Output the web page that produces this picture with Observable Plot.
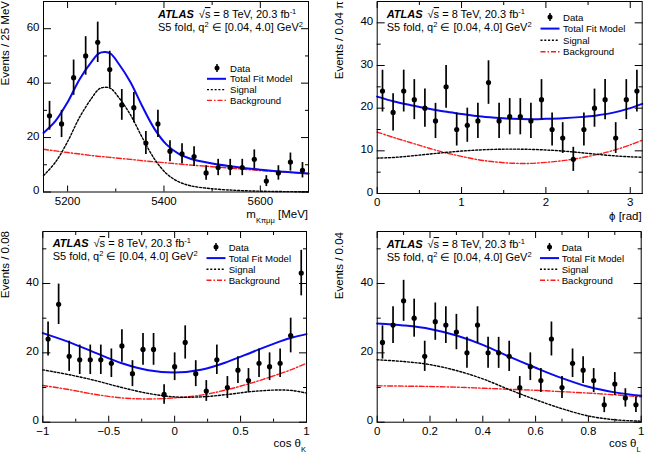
<!DOCTYPE html>
<html><head><meta charset="utf-8">
<script src="https://cdn.jsdelivr.net/npm/d3@7"></script>
<script src="https://cdn.jsdelivr.net/npm/@observablehq/plot@0.6"></script>
<style>
body{margin:0;background:#fff;}
#wrap{position:relative;width:647px;height:454px;overflow:hidden;font-family:"Liberation Sans",Arial,Helvetica,sans-serif;}
.p{position:absolute;}
#ov{position:absolute;left:0;top:0;pointer-events:none;}
</style></head><body><div id="wrap"></div>
<script>
// ---------- Panel 1: m(K pi mu mu) ----------
const massBins = [5162.5, 5187.5, 5212.5, 5237.5, 5262.5, 5287.5, 5312.5, 5337.5, 5362.5, 5387.5, 5412.5, 5437.5, 5462.5, 5487.5, 5512.5, 5537.5, 5562.5, 5587.5, 5612.5, 5637.5, 5662.5, 5687.5];
const massCounts = [28, 25, 42, 50, 55, 45, 32, 31, 18, 25, 15, 14, 13, 7, 9, 9, 9, 12, 4, 7, 11, 8];
const massCurveX = [5150, 5175, 5200, 5225, 5250, 5265, 5278, 5290, 5305, 5330, 5355, 5380, 5405, 5430, 5455, 5500, 5550, 5600, 5650, 5700];
const massSignal = [6, 11, 18.5, 27.5, 34.5, 37.8, 38.5, 38, 35, 28.5, 20, 12.2, 6.8, 3.8, 2.3, 1.2, 0.6, 0.3, 0.15, 0.08];
const massBkg = [15.7, 15.1, 14.5, 13.95, 13.4, 13.1, 12.9, 12.7, 12.4, 12.0, 11.5, 11.1, 10.7, 10.3, 9.9, 9.3, 8.6, 7.9, 7.3, 6.7];
const massTotal = [21.7, 26.1, 33.0, 41.45, 47.9, 50.9, 51.4, 50.7, 47.4, 40.5, 31.5, 23.3, 17.5, 14.1, 12.2, 10.5, 9.2, 8.2, 7.45, 6.78];
const massTicks = [5200, 5400, 5600];
const massMinor = [5300, 5500];
const massYTicks = [0, 20, 40, 60];
const massYMinor = [10, 30, 50];

// ---------- Panel 2: phi ----------
const phiBins = [0.0628, 0.1885, 0.3142, 0.4398, 0.5655, 0.6912, 0.8168, 0.9425, 1.0681, 1.1938, 1.3195, 1.4451, 1.5708, 1.6965, 1.8221, 1.9478, 2.0735, 2.1991, 2.3248, 2.4504, 2.5761, 2.7018, 2.8274, 2.9531, 3.0788];
const phiCounts = [24, 19, 24, 22, 20, 17, 25, 15, 16, 17, 26, 17, 18, 18, 17, 22, 15, 13, 8, 15, 20, 22, 13, 22, 24];
const phiCurveX = [0, 0.2, 0.4, 0.6, 0.8, 1.0, 1.2, 1.4, 1.6, 1.8, 2.0, 2.2, 2.4, 2.6, 2.8, 3.0, 3.1416];
const phiSignal = [8.3, 8.45, 8.8, 9.2, 9.6, 9.95, 10.2, 10.35, 10.4, 10.35, 10.2, 9.95, 9.6, 9.2, 8.85, 8.6, 8.5];
const phiBkg = [14.4, 13.1, 11.9, 10.7, 9.6, 8.7, 7.9, 7.4, 7.1, 7.05, 7.3, 7.7, 8.3, 9.1, 10.1, 11.4, 12.5];
const phiTotal = [22.7, 21.55, 20.7, 19.9, 19.2, 18.65, 18.1, 17.75, 17.5, 17.4, 17.5, 17.65, 17.9, 18.3, 18.95, 20.0, 21.0];
const phiTicks = [0, 1, 2, 3];
const phiMinor = [0.5, 1.5, 2.5];
const phiYTicks = [0, 10, 20, 30, 40];
const phiYMinor = [5, 15, 25, 35];

// ---------- Panel 3: cos theta_K ----------
const ckBins = [-0.96, -0.88, -0.80, -0.72, -0.64, -0.56, -0.48, -0.40, -0.32, -0.24, -0.16, -0.08, 0, 0.08, 0.16, 0.24, 0.32, 0.40, 0.48, 0.56, 0.64, 0.72, 0.80, 0.88, 0.96];
const ckCounts = [24, 34, 19, 18, 18, 18, 17, 22, 14, 21, 21, 8, 16, 23, 14, 9, 18, 10, 15, 12, 17, 16, 17, 25, 43];
const ckCurveX = [-1, -0.8, -0.6, -0.4, -0.2, 0, 0.2, 0.4, 0.6, 0.8, 0.9, 1];
const ckSignal = [15.1, 13.7, 12.0, 10.0, 8.3, 7.3, 7.3, 8.0, 8.9, 9.3, 9.1, 8.4];
const ckBkg = [10.6, 9.4, 8.0, 7.0, 6.7, 7.0, 7.8, 9.4, 11.5, 14.0, 15.4, 17.0];
const ckTotal = [25.7, 23.1, 20.0, 17.0, 15.0, 14.3, 15.1, 17.4, 20.4, 23.3, 24.5, 25.4];
const ckTicks = [-1, -0.5, 0, 0.5, 1];
const ckMinor = [-0.75, -0.25, 0.25, 0.75];
const ckYTicks = [0, 20, 40];
const ckYMinor = [10, 30, 50];

// ---------- Panel 4: cos theta_L ----------
const clBins = [0.02, 0.06, 0.10, 0.14, 0.18, 0.22, 0.26, 0.30, 0.34, 0.38, 0.42, 0.46, 0.50, 0.54, 0.58, 0.62, 0.66, 0.70, 0.74, 0.78, 0.82, 0.86, 0.90, 0.94, 0.98];
const clCounts = [23, 28, 35, 30, 19, 29, 28, 26, 20, 28, 20, 20, 19, 10, 16, 12, 24, 10, 17, 15, 12, 5, 11, 7, 5];
const clCurveX = [0, 0.1, 0.2, 0.3, 0.4, 0.5, 0.6, 0.7, 0.8, 0.9, 1];
const clSignal = [18.0, 17.5, 16.6, 14.9, 12.5, 9.4, 6.5, 3.9, 1.8, 0.7, 0.3];
const clBkg = [10.5, 10.4, 10.3, 10.1, 9.8, 9.5, 9.2, 8.8, 8.4, 7.9, 7.3];
const clTotal = [28.5, 27.9, 26.9, 25.0, 22.3, 18.9, 15.7, 12.7, 10.2, 8.6, 7.6];
const clTicks = [0, 0.2, 0.4, 0.6, 0.8, 1];
const clMinor = [0.1, 0.3, 0.5, 0.7, 0.9];
const clYTicks = [0, 20, 40];
const clYMinor = [10, 30, 50];

const yTitles = ["Events / 25 MeV", "Events / 0.04 \u03C0", "Events / 0.08", "Events / 0.04"];
const legendLabels = ["Data", "Total Fit Model", "Signal", "Background"];

const FONT = '"Liberation Sans", Arial, Helvetica, sans-serif';
const BLUE = "#0a0af0", RED = "#ff1a1a";
const fmtPlain = d => d < 0 ? "\u2212" + (-d) : String(d);

const panels = [
  {left:0, top:0, w:323, h:227, m:[1,15,35.5,43], xDom:[5150,5700], yDom:[0,70],
   xMaj:massTicks, xMin:massMinor, yMaj:massYTicks, yMin:massYMinor,
   bins:massBins, counts:massCounts, cx:massCurveX, sig:massSignal, bkg:massBkg, tot:massTotal},
  {left:323, top:0, w:324, h:227, m:[1,5.3,34,53.7], xDom:[0,Math.PI], yDom:[0,45],
   xMaj:phiTicks, xMin:phiMinor, yMaj:phiYTicks, yMin:phiYMinor,
   bins:phiBins, counts:phiCounts, cx:phiCurveX, sig:phiSignal, bkg:phiBkg, tot:phiTotal},
  {left:0, top:227, w:323, h:227, m:[4,17,32.3,42.3], xDom:[-1,1], yDom:[0,55],
   xMaj:ckTicks, xMin:ckMinor, yMaj:ckYTicks, yMin:ckYMinor,
   bins:ckBins, counts:ckCounts, cx:ckCurveX, sig:ckSignal, bkg:ckBkg, tot:ckTotal},
  {left:323, top:227, w:324, h:227, m:[4,6.3,32.3,53.7], xDom:[0,1], yDom:[0,55],
   xMaj:clTicks, xMin:clMinor, yMaj:clYTicks, yMin:clYMinor,
   bins:clBins, counts:clCounts, cx:clCurveX, sig:clSignal, bkg:clBkg, tot:clTotal}
];

const wrap = document.getElementById("wrap");

function inTicks(Axis, anchor, ticks, size) {
  return Axis({anchor, ticks, tickSize: -size, tickFormat: () => "", label: null, strokeWidth: 1});
}

for (const p of panels) {
  const pts = p.bins.map((x, i) => ({x, n: p.counts[i]}));
  const toPts = arr => p.cx.map((x, i) => ({x, y: arr[i]}));
  const plot = Plot.plot({
    width: p.w, height: p.h,
    marginTop: p.m[0], marginRight: p.m[1], marginBottom: p.m[2], marginLeft: p.m[3],
    x: {domain: p.xDom, label: null},
    y: {domain: p.yDom, label: null},
    style: {fontFamily: FONT, fontSize: "11.5px", color: "black", background: "transparent", overflow: "visible"},
    marks: [
      Plot.line(toPts(p.bkg), {x: "x", y: "y", stroke: RED, strokeWidth: 1.4, strokeDasharray: "5,2,1.5,2", curve: "catmull-rom"}),
      Plot.line(toPts(p.sig), {x: "x", y: "y", stroke: "black", strokeWidth: 1.4, strokeDasharray: "2,1.8", curve: "catmull-rom"}),
      Plot.line(toPts(p.tot), {x: "x", y: "y", stroke: BLUE, strokeWidth: 2, curve: "catmull-rom"}),
      Plot.ruleX(pts, {x: "x", y1: d => d.n - Math.sqrt(d.n), y2: d => d.n + Math.sqrt(d.n), stroke: "black", strokeWidth: 1.7}),
      Plot.dot(pts, {x: "x", y: "n", r: 2.6, fill: "black"}),
      Plot.frame({stroke: "black", strokeWidth: 1}),
      inTicks(Plot.axisX, "bottom", p.xMaj, 6),
      inTicks(Plot.axisX, "top", p.xMaj, 6),
      inTicks(Plot.axisX, "bottom", p.xMin, 3),
      inTicks(Plot.axisX, "top", p.xMin, 3),
      inTicks(Plot.axisY, "left", p.yMaj, 8),
      inTicks(Plot.axisY, "right", p.yMaj, 8),
      inTicks(Plot.axisY, "left", p.yMin, 4),
      inTicks(Plot.axisY, "right", p.yMin, 4),
      Plot.axisX({anchor: "bottom", ticks: p.xMaj, tickSize: 0, tickPadding: 4.5, tickFormat: fmtPlain, label: null}),
      Plot.axisY({anchor: "left", ticks: p.yMaj, tickSize: 0, tickPadding: 4, tickFormat: fmtPlain, label: null, dy: -1.5})
    ]
  });
  const d = document.createElement("div");
  d.className = "p";
  d.style.left = p.left + "px";
  d.style.top = p.top + "px";
  d.appendChild(plot);
  wrap.appendChild(d);
}

// ---------- overlay: titles, annotations, legends ----------
const xTitles = [
  {x:308, y:217.5, html:'m<tspan baseline-shift="sub" font-size="7.5">K\u03C0\u03BC\u03BC</tspan> [MeV]'},
  {x:641.7, y:219.5, html:'\u03D5 [rad]'},
  {x:306, y:446.5, html:'cos \u03B8<tspan baseline-shift="sub" font-size="7.5">K</tspan>'},
  {x:640.7, y:446.5, html:'cos \u03B8<tspan baseline-shift="sub" font-size="7.5">L</tspan>'}
];
const yTitlePos = [[9,1],[343,1],[9,231],[343,232]];
const annPos = [[158,18,30.5],[386.7,18,31],[52.7,247,259.5],[386.7,248,260.5]];
const legPos = [
  {x0:207, mx:217, tx:230, y0:68, dy:10.8},
  {x0:540.5, mx:550, tx:563, y0:17, dy:11.6},
  {x0:206.5, mx:216, tx:228.7, y0:247, dy:11.1},
  {x0:540, mx:549.5, tx:561.7, y0:247, dy:11.1}
];

let s = `<svg id="ov" width="647" height="454" xmlns="http://www.w3.org/2000/svg" font-family='${FONT}' fill="black">`;
xTitles.forEach(t => { s += `<text x="${t.x}" y="${t.y}" text-anchor="end" font-size="11.5">${t.html}</text>`; });
yTitlePos.forEach((pos, i) => { s += `<text transform="translate(${pos[0]},${pos[1]}) rotate(-90)" text-anchor="end" font-size="11.5">${yTitles[i]}</text>`; });
annPos.forEach(a => {
  s += `<text x="${a[0]}" y="${a[1]}" font-size="11"><tspan font-weight="bold" font-style="italic">ATLAS</tspan><tspan dx="5">\u221A</tspan><tspan text-decoration="overline">s</tspan> = 8 TeV, 20.3 fb<tspan baseline-shift="super" font-size="7.5">-1</tspan></text>`;
  s += `<text x="${a[0]}" y="${a[2]}" font-size="11">S5 fold, q<tspan baseline-shift="super" font-size="7.5">2</tspan> \u2208 [0.04, 4.0] GeV<tspan baseline-shift="super" font-size="7.5">2</tspan></text>`;
});
legPos.forEach(L => {
  const ys = [0,1,2,3].map(i => L.y0 + i * L.dy);
  s += `<line x1="${L.mx}" x2="${L.mx}" y1="${ys[0]-4}" y2="${ys[0]+4}" stroke="black" stroke-width="1.5"/>`;
  s += `<circle cx="${L.mx}" cy="${ys[0]}" r="2.5" fill="black"/>`;
  s += `<line x1="${L.x0}" x2="${L.x0+19}" y1="${ys[1]}" y2="${ys[1]}" stroke="${BLUE}" stroke-width="2"/>`;
  s += `<line x1="${L.x0}" x2="${L.x0+19}" y1="${ys[2]}" y2="${ys[2]}" stroke="black" stroke-width="1.4" stroke-dasharray="2,1.8"/>`;
  s += `<line x1="${L.x0}" x2="${L.x0+19}" y1="${ys[3]}" y2="${ys[3]}" stroke="${RED}" stroke-width="1.4" stroke-dasharray="5,2,1.5,2"/>`;
  legendLabels.forEach((lab, i) => { s += `<text x="${L.tx}" y="${ys[i]+3.5}" font-size="9.6">${lab}</text>`; });
});
s += `</svg>`;
wrap.insertAdjacentHTML("beforeend", s);
</script>
</body></html>
